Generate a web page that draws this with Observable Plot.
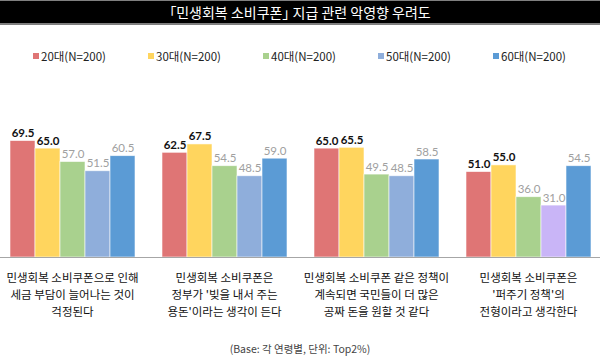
<!DOCTYPE html>
<html>
<head>
<meta charset="utf-8">
<script src="https://cdn.jsdelivr.net/npm/d3@7"></script>
<script src="https://cdn.jsdelivr.net/npm/@observablehq/plot@0.6"></script>
<style>
  html, body { margin: 0; padding: 0; background: #fff; }
  #wrap { position: relative; width: 600px; height: 364px; overflow: hidden; font-family: "Noto Sans CJK KR", "Noto Sans", sans-serif; }
  #title { position: absolute; left: 0; top: 0; width: 600px; height: 22px; background: #000; border-top: 1px solid #7f7f7f; border-bottom: 2px solid #7f7f7f; color: #fff; font-size: 14px; line-height: 22px; text-align: center; font-feature-settings: "palt"; }
  .leg { position: absolute; top: 48px; font-size: 11.5px; line-height: 16px; color: #222; white-space: nowrap; display: flex; align-items: center; }
  .leg span.sw { display: inline-block; width: 6px; height: 6px; margin-right: 2px; }
  #chart { position: absolute; left: 0; top: 70px; }
  #caption { position: absolute; left: 0; width: 600px; top: 341px; text-align: center; font-size: 10.5px; color: #444; }
</style>
</head>
<body>
<div id="wrap">
  <div id="title">「민생회복 소비쿠폰」 지급 관련 악영향 우려도</div>
  <div id="legend"></div>
  <div id="chart"></div>
  <div id="caption">(Base: 각 연령별, 단위: Top2%)</div>
</div>
<script>
const questions = [
  "민생회복 소비쿠폰으로 인해\n세금 부담이 늘어나는 것이\n걱정된다",
  "민생회복 소비쿠폰은\n정부가 '빚을 내서 주는\n용돈'이라는 생각이 든다",
  "민생회복 소비쿠폰 같은 정책이\n계속되면 국민들이 더 많은\n공짜 돈을 원할 것 같다",
  "민생회복 소비쿠폰은\n'퍼주기 정책'의\n전형이라고 생각한다"
];
const ages = ["20대(N=200)", "30대(N=200)", "40대(N=200)", "50대(N=200)", "60대(N=200)"];
const ageColors = ["#df7575", "#ffd55e", "#a9d18e", "#8faedb", "#5b9bd5"];
const values20 = [69.5, 62.5, 65.0, 51.0];
const values30 = [65.0, 67.5, 65.5, 55.0];
const values40 = [57.0, 54.5, 49.5, 36.0];
const values50 = [51.5, 48.5, 48.5, 31.0];
const values60 = [60.5, 59.0, 58.5, 54.5];
const boldAges = ["20대(N=200)", "30대(N=200)"];
// highlighted bar: 50대 in the 4th question drawn in purple
const specialBar = {question: 3, age: 3, color: "#c9b5f7"};

const series = [values20, values30, values40, values50, values60];
const data = [];
questions.forEach((q, qi) => {
  ages.forEach((a, ai) => {
    let color = ageColors[ai];
    if (qi === specialBar.question && ai === specialBar.age) color = specialBar.color;
    data.push({q, age: a, value: series[ai][qi], color, bold: boldAges.includes(a)});
  });
});

// legend
const legend = document.getElementById("legend");
ages.forEach((a, i) => {
  const el = document.createElement("div");
  el.className = "leg";
  el.style.left = (33 + i * 115) + "px";
  el.innerHTML = `<span class="sw" style="background:${ageColors[i]}"></span>${a}`;
  legend.appendChild(el);
});

const chart = Plot.plot({
  width: 600,
  height: 270,
  marginLeft: 0,
  marginRight: 0,
  marginTop: 19.5,
  marginBottom: 83,
  style: {fontFamily: "'Noto Sans CJK KR', sans-serif", background: "transparent"},
  fx: {domain: questions, paddingInner: 0.169, paddingOuter: 0.046, axis: null},
  x: {domain: ages, padding: 0, axis: null},
  y: {domain: [0, 100], axis: null},
  marks: [
    Plot.barY(data, {fx: "q", x: "age", y: "value", fill: "color", stroke: "#ffffff", strokeOpacity: 0.7, strokeWidth: 0.8}),
    Plot.ruleY([0], {stroke: "#a6a6a6", strokeWidth: 1.2, insetLeft: -14, insetRight: -14}),
    Plot.text(data.filter(d => d.bold), {fx: "q", x: "age", y: "value", text: d => d.value.toFixed(1), lineAnchor: "bottom", dy: -4, fill: "#111", fontWeight: "bold", fontSize: 11.5, fontFamily: "Lato, 'Open Sans', sans-serif"}),
    Plot.text(data.filter(d => !d.bold), {fx: "q", x: "age", y: "value", text: d => d.value.toFixed(1), lineAnchor: "bottom", dy: -4, fill: "#a0a0a0", fontSize: 11.5, fontFamily: "Lato, 'Open Sans', sans-serif"}),
    Plot.text(questions, {fx: d => d, text: d => d, frameAnchor: "bottom", lineAnchor: "middle", dy: 36, lineHeight: 1.5, fontSize: 11.5, fill: "#111"})
  ]
});
document.getElementById("chart").appendChild(chart);
</script>
</body>
</html>
